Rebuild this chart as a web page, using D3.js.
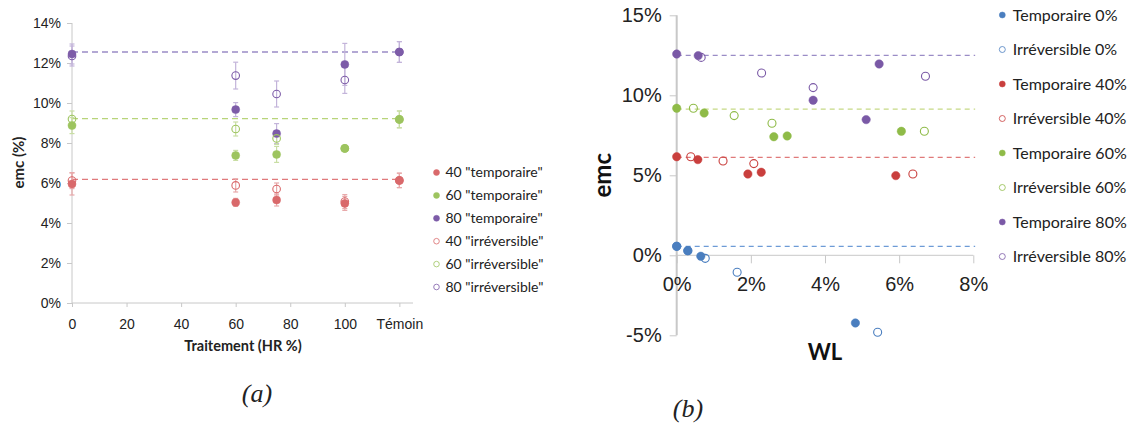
<!DOCTYPE html>
<html><head><meta charset="utf-8">
<script src="https://cdn.jsdelivr.net/npm/d3@7"></script>
<style>
body{margin:0;background:#fff;}
svg{display:block;font-family:Lato,"Open Sans",sans-serif;}
text.cap{font-family:"Liberation Serif","DejaVu Serif",serif;font-style:italic;}
</style></head>
<body><svg id="c" width="1131" height="425"></svg>
<script>
// ---------- Chart (a) data ----------
const traitA = [0, 60, 75, 100, 120];               // 120 = "Témoin"
const tickValsA = [0, 20, 40, 60, 80, 100, 120];
const tickLabelsA = ["0", "20", "40", "60", "80", "100", "Témoin"];
const yTicksA = [0, 2, 4, 6, 8, 10, 12, 14];
const temp40 = [5.95, 5.03, 5.15, 4.98, 6.13];
const temp40Err = [0.55, 0.2, 0.3, 0.35, 0.36];
const temp60 = [8.87, 7.38, 7.43, 7.73, 9.18];
const temp60Err = [0.4, 0.25, 0.4, 0.1, 0.42];
const temp80 = [12.45, 9.67, 8.47, 11.93, 12.55];
const temp80Err = [0.5, 0.35, 0.5, 1.05, 0.52];
const irr40 = [6.12, 5.88, 5.7, 5.07, 6.13];
const irr40Err = [0.4, 0.33, 0.3, 0.35, 0.36];
const irr60 = [9.2, 8.7, 8.23, 7.73, 9.18];
const irr60Err = [0.4, 0.35, 0.3, 0.1, 0.42];
const irr80 = [12.35, 11.37, 10.45, 11.15, 12.55];
const irr80Err = [0.5, 0.67, 0.65, 0.67, 0.52];
const refA40 = 6.18, refA60 = 9.22, refA80 = 12.55;
const legendA = ['40 "temporaire"', '60 "temporaire"', '80 "temporaire"', '40 "irréversible"', '60 "irréversible"', '80 "irréversible"'];

// ---------- Chart (b) data ----------
const yTicksB = [-5, 0, 5, 10, 15];
const xTicksB = [0, 2, 4, 6, 8];
const t0WL = [0, 0.3, 0.65, 4.82];        const t0EMC = [0.56, 0.29, -0.06, -4.23];
const i0WL = [0, 0.3, 0.77, 1.63, 5.42];  const i0EMC = [0.56, 0.29, -0.19, -1.06, -4.81];
const t40WL = [0, 0.57, 1.92, 2.28, 5.91]; const t40EMC = [6.16, 5.98, 5.08, 5.19, 4.98];
const i40WL = [0.38, 1.25, 2.08, 6.37];   const i40EMC = [6.16, 5.89, 5.73, 5.08];
const t60WL = [0, 0.74, 2.62, 2.98, 6.06]; const t60EMC = [9.19, 8.89, 7.41, 7.46, 7.75];
const i60WL = [0.45, 1.55, 2.57, 6.68];   const i60EMC = [9.19, 8.73, 8.25, 7.75];
const t80WL = [0, 0.58, 3.68, 5.11, 5.46]; const t80EMC = [12.58, 12.48, 9.69, 8.48, 11.96];
const i80WL = [0.66, 2.29, 3.68, 6.71];   const i80EMC = [12.37, 11.39, 10.48, 11.19];
const refB0 = 0.56, refB40 = 6.12, refB60 = 9.14, refB80 = 12.5;
const legendB = ["Temporaire 0%", "Irréversible 0%", "Temporaire 40%", "Irréversible 40%", "Temporaire 60%", "Irréversible 60%", "Temporaire 80%", "Irréversible 80%"];

const svg = d3.select("#c");
const axisCol = "#c8c8c8";

// ================= Chart (a) =================
{
  const x = d3.scaleLinear().domain([0, 125]).range([72, 413]);
  const y = d3.scaleLinear().domain([0, 14]).range([303, 23]);
  const g = svg.append("g");
  const cRed = "#d9696b", cGreen = "#9dc45f", cPurple = "#7d5ca8";
  const eRed = "#e8a9aa", eGreen = "#c9dea4", ePurple = "#c3b4da";

  const ya = d3.axisLeft(y).tickValues(yTicksA).tickFormat(d => d + "%").tickSize(5).tickPadding(6);
  const gy = g.append("g").attr("transform", `translate(${x(0)},0)`).call(ya);
  const xa = d3.axisBottom(x).tickValues(tickValsA).tickFormat((d, i) => tickLabelsA[i]).tickSize(4).tickPadding(12);
  const gx = g.append("g").attr("transform", `translate(0,${y(0)})`).call(xa);
  [gx, gy].forEach(a => {
    a.selectAll("path,line").attr("stroke", axisCol);
    a.selectAll("text").attr("font-size", 14).attr("fill", "#222");
  });
  gx.select(".domain").attr("d", `M${x(0)},0H${x(125)}`);
  gy.select(".domain").attr("d", `M0,${y(0)}V${y(14)}`);

  // reference lines
  [[refA80, "#9a8cc6"], [refA60, "#b8d47a"], [refA40, "#e07a7c"]].forEach(([v, c]) => {
    g.append("line").attr("x1", x(0)).attr("x2", x(120.5)).attr("y1", y(v)).attr("y2", y(v))
      .attr("stroke", c).attr("stroke-width", 1.3).attr("stroke-dasharray", "6,4");
  });

  const series = [
    [temp40, temp40Err, cRed, eRed, true],
    [temp60, temp60Err, cGreen, eGreen, true],
    [temp80, temp80Err, cPurple, ePurple, true],
    [irr40, irr40Err, cRed, eRed, false],
    [irr60, irr60Err, cGreen, eGreen, false],
    [irr80, irr80Err, cPurple, ePurple, false]
  ];
  // error bars
  series.forEach(([vals, errs, c, ec]) => {
    vals.forEach((v, i) => {
      const xx = x(traitA[i]);
      g.append("line").attr("x1", xx).attr("x2", xx).attr("y1", y(v - errs[i])).attr("y2", y(v + errs[i])).attr("stroke", ec).attr("stroke-width", 1.2);
      [v - errs[i], v + errs[i]].forEach(e => g.append("line").attr("x1", xx - 2.5).attr("x2", xx + 2.5).attr("y1", y(e)).attr("y2", y(e)).attr("stroke", ec).attr("stroke-width", 1.2));
    });
  });
  series.forEach(([vals, errs, c, ec, filled]) => {
    g.selectAll(null).data(vals).enter().append("circle")
      .attr("cx", (d, i) => x(traitA[i])).attr("cy", d => y(d)).attr("r", filled ? 4 : 3.8)
      .attr("fill", filled ? c : "none").attr("stroke", c).attr("stroke-width", filled ? 0.5 : 1.1);
  });

  g.append("text").attr("transform", `translate(19,162.5) rotate(-90)`).attr("text-anchor", "middle")
    .attr("font-size", 15).attr("font-weight", "bold").attr("fill", "#222").attr("dy", "0.35em").text("emc (%)");
  g.append("text").attr("x", 243).attr("y", 346).attr("dy", "0.35em").attr("text-anchor", "middle")
    .attr("font-size", 14.5).attr("font-weight", "bold").attr("fill", "#222").text("Traitement (HR %)");

  const legCols = [cRed, cGreen, cPurple, cRed, cGreen, cPurple];
  legendA.forEach((t, i) => {
    const yy = 172.5 + i * 22.9;
    g.append("circle").attr("cx", 436.5).attr("cy", yy).attr("r", i < 3 ? 3 : 2.8)
      .attr("fill", i < 3 ? legCols[i] : "none").attr("stroke", legCols[i]).attr("stroke-width", i < 3 ? 0.5 : 0.8);
    g.append("text").attr("x", 445.5).attr("y", yy).attr("dy", "0.35em").attr("font-size", 14).attr("fill", "#222").text(t);
  });
  g.append("text").attr("class", "cap").attr("x", 257).attr("y", 393).attr("dy", "0.35em").attr("text-anchor", "middle")
    .attr("font-size", 26).attr("fill", "#222").text("(a)");
}

// ================= Chart (b) =================
{
  const x = d3.scaleLinear().domain([0, 8]).range([676.7, 973.3]);
  const y = d3.scaleLinear().domain([-5, 15]).range([335.3, 15.3]);
  const g = svg.append("g");
  const cBlue = "#4a7ebf", cRed = "#c93f3d", cGreen = "#8fbb48", cPurple = "#7a59a6";

  const ya = d3.axisLeft(y).tickValues(yTicksB).tickFormat(d => d + "%").tickSize(7).tickPadding(8);
  const gy = g.append("g").attr("transform", `translate(${x(0)},0)`).call(ya);
  const xa = d3.axisBottom(x).tickValues(xTicksB).tickFormat(d => d + "%").tickSize(8).tickPadding(14);
  const gx = g.append("g").attr("transform", `translate(0,${y(0)})`).call(xa);
  [gx, gy].forEach(a => {
    a.selectAll("path,line").attr("stroke", axisCol);
    a.selectAll("text").attr("font-size", 20).attr("fill", "#222");
  });
  gx.select(".domain").attr("d", `M${x(0)},0H${x(8)}`);
  gy.select(".domain").attr("d", `M0,${y(-5)}V${y(15)}`);
  gy.select(".domain").attr("stroke-width", 2);

  [[refB80, "#9a8cc6"], [refB60, "#c6d985"], [refB40, "#e07a7a"], [refB0, "#6d9bd6"]].forEach(([v, c]) => {
    g.append("line").attr("x1", x(0)).attr("x2", x(8.05)).attr("y1", y(v)).attr("y2", y(v))
      .attr("stroke", c).attr("stroke-width", 1.3).attr("stroke-dasharray", "5,4");
  });

  const series = [
    [t0WL, t0EMC, cBlue, true], [i0WL, i0EMC, cBlue, false],
    [t40WL, t40EMC, cRed, true], [i40WL, i40EMC, cRed, false],
    [t60WL, t60EMC, cGreen, true], [i60WL, i60EMC, cGreen, false],
    [t80WL, t80EMC, cPurple, true], [i80WL, i80EMC, cPurple, false]
  ];
  series.forEach(([xs, ys, c, filled]) => {
    g.selectAll(null).data(ys).enter().append("circle")
      .attr("cx", (d, i) => x(xs[i])).attr("cy", d => y(d)).attr("r", filled ? 4.2 : 4)
      .attr("fill", filled ? c : "none").attr("stroke", c).attr("stroke-width", filled ? 0.5 : 1.1);
  });

  g.append("text").attr("transform", `translate(603,${y(5)}) rotate(-90)`).attr("text-anchor", "middle")
    .attr("font-size", 24).attr("font-weight", "bold").attr("fill", "#111").attr("dy", "0.35em").text("emc");
  g.append("text").attr("x", 825).attr("y", 352).attr("dy", "0.35em").attr("text-anchor", "middle")
    .attr("font-size", 22).attr("font-weight", "bold").attr("fill", "#111").text("WL");

  const legCols = [cBlue, cBlue, cRed, cRed, cGreen, cGreen, cPurple, cPurple];
  legendB.forEach((t, i) => {
    const yy = 15 + i * 34.5;
    const filled = i % 2 === 0;
    g.append("circle").attr("cx", 1002.3).attr("cy", yy).attr("r", 3)
      .attr("fill", filled ? legCols[i] : "none").attr("stroke", legCols[i]).attr("stroke-width", filled ? 0.5 : 0.8);
    g.append("text").attr("x", 1012.7).attr("y", yy).attr("dy", "0.35em").attr("font-size", 16).attr("fill", "#222").text(t);
  });
  g.append("text").attr("class", "cap").attr("x", 688).attr("y", 408).attr("dy", "0.35em").attr("text-anchor", "middle")
    .attr("font-size", 26).attr("fill", "#222").text("(b)");
}
</script></body></html>
